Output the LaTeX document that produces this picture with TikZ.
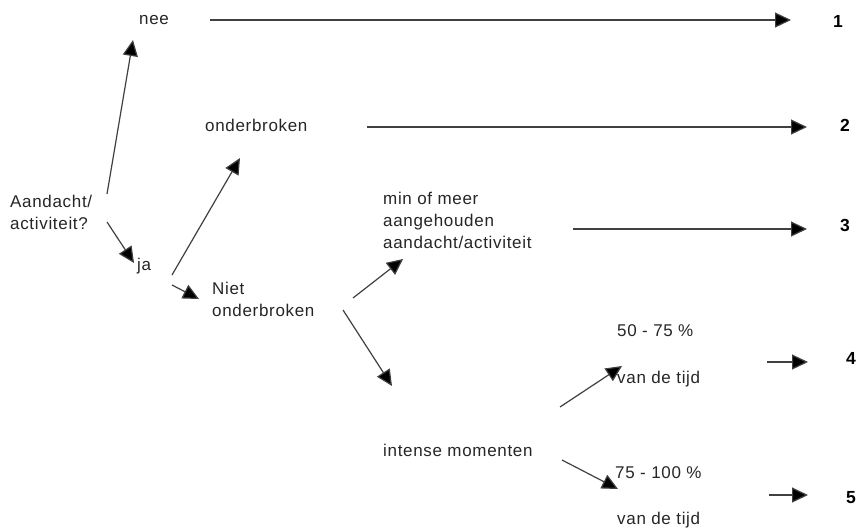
\documentclass[tikz,border=0pt]{standalone}
\usepackage{fontspec}
\setmainfont{Liberation Sans}
\newfontfamily\spacedfont[LetterSpace=4]{Liberation Sans}
\usetikzlibrary{arrows.meta}
\begin{document}
\begin{tikzpicture}[x=1pt,y=-1pt,
  lbl/.style={inner sep=0pt,anchor=west,text=black!85,font=\spacedfont\fontsize{17}{22}\selectfont,align=left},
  num/.style={inner sep=0pt,text=black,font=\fontsize{17.5}{20}\selectfont\bfseries},
  arr/.style={draw=black!75,line width=1.2pt,-{Triangle[length=16pt,width=15pt,fill=black]}}]
\useasboundingbox[fill=white] (0,0) rectangle (858,531);
% texts
\node[lbl] (nee) at (139,20) {nee};
\node[lbl] (ond) at (205,125) {onderbroken};
\node[lbl] (aand) at (10,212) {Aandacht/\\activiteit?};
\node[lbl] (ja) at (137,266) {ja};
\node[lbl] (niet) at (212,299) {Niet\\onderbroken};
\node[lbl] (min) at (383,220) {min of meer\\aangehouden\\aandacht/activiteit};
\node[lbl] (int) at (383,450) {intense momenten};
\node[lbl] (p50) at (617,331) {50 - 75 \%};
\node[lbl] (t50) at (617,379) {van de tijd};
\node[lbl] (p75) at (615,473) {75 - 100 \%};
\node[lbl] (t75) at (617,520) {van de tijd};
\node[num] (n1) at (838,21) {1};
\node[num] (n2) at (845,125) {2};
\node[num] (n3) at (845,225) {3};
\node[num] (n4) at (851,358) {4};
\node[num] (n5) at (851,498) {5};
% connector end points
\coordinate (a1s) at (210,20);  \coordinate (a1e) at (791,20);
\coordinate (a2s) at (367,127); \coordinate (a2e) at (807,127);
\coordinate (a3s) at (573,229); \coordinate (a3e) at (807,229);
\coordinate (a4s) at (767,362); \coordinate (a4e) at (808,362);
\coordinate (a5s) at (769,495); \coordinate (a5e) at (808,495);
\coordinate (q1) at (107,194);  \coordinate (q1e) at (133,40);
\coordinate (q2) at (107,222);  \coordinate (q2e) at (134,263);
\coordinate (j1) at (172,275);  \coordinate (j1e) at (240,158);
\coordinate (j2) at (172,285);  \coordinate (j2e) at (199,299);
\coordinate (o1) at (353,298);  \coordinate (o1e) at (403,259);
\coordinate (o2) at (343,310);  \coordinate (o2e) at (392,386);
\coordinate (i1) at (560,407);  \coordinate (i1e) at (622,366);
\coordinate (i2) at (562,460);  \coordinate (i2e) at (618,489);
% connectors
\draw[arr] (a1s) -- (a1e);
\draw[arr] (a2s) -- (a2e);
\draw[arr] (a3s) -- (a3e);
\draw[arr] (a4s) -- (a4e);
\draw[arr] (a5s) -- (a5e);
\draw[arr] (q1) -- (q1e);
\draw[arr] (q2) -- (q2e);
\draw[arr] (j1) -- (j1e);
\draw[arr] (j2) -- (j2e);
\draw[arr] (o1) -- (o1e);
\draw[arr] (o2) -- (o2e);
\draw[arr] (i1) -- (i1e);
\draw[arr] (i2) -- (i2e);
\end{tikzpicture}
\end{document}
